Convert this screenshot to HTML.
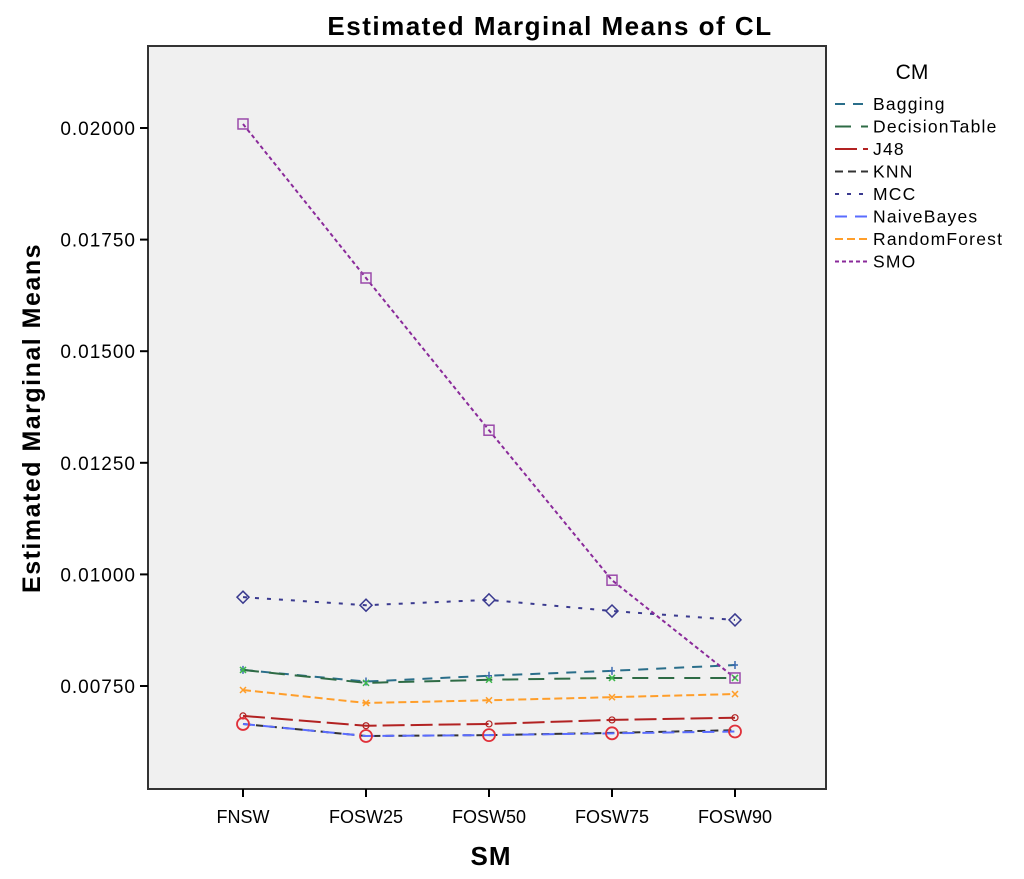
<!DOCTYPE html>
<html><head><meta charset="utf-8"><style>
body{margin:0;background:#fff;}
svg{display:block;font-family:"Liberation Sans",sans-serif;}
</style></head><body>
<svg id="chart" width="1024" height="879" viewBox="0 0 1024 879">
<rect x="0" y="0" width="1024" height="879" fill="#fff"/>
<text x="550" y="35" text-anchor="middle" font-size="26" font-weight="bold" letter-spacing="1.5" fill="#000">Estimated Marginal Means of CL</text>
<rect x="148" y="46" width="678" height="743" fill="#f0f0f0" stroke="#333" stroke-width="2"/>
<text transform="translate(40,418) rotate(-90)" text-anchor="middle" font-size="25" font-weight="bold" letter-spacing="1.5">Estimated Marginal Means</text>
<text x="491" y="865" text-anchor="middle" font-size="26" font-weight="bold" letter-spacing="1">SM</text>
<g id="axes"></g>
<g id="series"></g>
<g id="legend">
<text x="912" y="79" text-anchor="middle" font-size="21">CM</text>
</g>
</svg>
<script>
const categories=["FNSW","FOSW25","FOSW50","FOSW75","FOSW90"];
const yTicks=[0.02,0.0175,0.015,0.0125,0.01,0.0075];
const yTickLabels=["0.02000","0.01750","0.01500","0.01250","0.01000","0.00750"];
const seriesNames=["Bagging","DecisionTable","J48","KNN","MCC","NaiveBayes","RandomForest","SMO"];
const bagging=[0.00786,0.00760,0.00773,0.00784,0.00797];
const decisionTable=[0.00786,0.00757,0.00764,0.00768,0.00768];
const j48=[0.00683,0.00661,0.00665,0.00674,0.00679];
const knn=[0.00665,0.00638,0.00640,0.00645,0.00651];
const mcc=[0.00949,0.00931,0.00943,0.00918,0.00898];
const naiveBayes=[0.00665,0.00638,0.00640,0.00644,0.00648];
const randomForest=[0.00741,0.00712,0.00718,0.00725,0.00732];
const smo=[0.02009,0.01664,0.01323,0.00987,0.00768];

const NS="http://www.w3.org/2000/svg";
const xs=i=>243+i*123;
const ys=v=>128+(0.02-v)*44640;
function mk(tag,attrs,parent){const e=document.createElementNS(NS,tag);for(const k in attrs)e.setAttribute(k,attrs[k]);parent.appendChild(e);return e;}
const axes=document.getElementById('axes');
yTicks.forEach((t,i)=>{
  const l=mk('line',{x1:140,x2:148,y1:ys(t),y2:ys(t),stroke:'#000','stroke-width':2},axes);
  
  
  const tx=mk('text',{x:136,y:ys(t)+7,'text-anchor':'end','font-size':19,'letter-spacing':1},axes);
  tx.textContent=yTickLabels[i];
  
  
});
categories.forEach((c,i)=>{
  const l=mk('line',{x1:xs(i),x2:xs(i),y1:789,y2:797,stroke:'#000','stroke-width':2},axes);
  
  
  const tx=mk('text',{x:xs(i),y:823,'text-anchor':'middle','font-size':18},axes);
  tx.textContent=c;
  
  
});
const data=[bagging,decisionTable,j48,knn,mcc,naiveBayes,randomForest,smo];
const colors=['#2a6e8a','#2e6b45','#b22222','#333333','#3a3a8f','#5a6cff','#ff9e2a','#8a2a9a'];
const dashes=['10,8','16,10','22,6','8,5','4,8','12,8','8,4','4,3'];
const markers=['plus','x','diamond-s','none','diamond','circle','x','square'];
const sg=document.getElementById('series');
data.forEach((d,s)=>{
  const g=mk('g',{},sg);
  
  
  const pts=d.map((v,i)=>xs(i)+','+ys(v)).join(' ');
  const pl=mk('polyline',{points:pts,fill:'none',stroke:colors[s],'stroke-width':2,'stroke-dasharray':dashes[s]},g);
  
  
  d.forEach((v,i)=>{
    const x=xs(i),y=ys(v);let m=null;
    const mt=markers[s];
    if(mt==='square')m=mk('rect',{x:x-5,y:y-5,width:10,height:10,fill:'none',stroke:'#9a4aaa','stroke-width':1.5},g);
    else if(mt==='diamond')m=mk('path',{d:`M${x} ${y-6}L${x+6} ${y}L${x} ${y+6}L${x-6} ${y}Z`,fill:'none',stroke:colors[s],'stroke-width':1.5},g);
    else if(mt==='circle')m=mk('circle',{cx:x,cy:y,r:6,fill:'none',stroke:'#e0303a','stroke-width':1.8},g);
    else if(mt==='diamond-s')m=mk('circle',{cx:x,cy:y,r:3,fill:'none',stroke:colors[s],'stroke-width':1.2},g);
    else if(mt==='x')m=mk('path',{d:`M${x-3} ${y-3}L${x+3} ${y+3}M${x-3} ${y+3}L${x+3} ${y-3}`,stroke:s===1?'#3cb84a':colors[s],'stroke-width':1.5},g);
    else if(mt==='plus')m=mk('path',{d:`M${x-3} ${y}L${x+3} ${y}M${x} ${y-4}L${x} ${y+4}`,stroke:'#3a6ab0','stroke-width':1.5},g);
    if(m){
    }
  });
});
const lg=document.getElementById('legend');
seriesNames.forEach((n,s)=>{
  const y=104+s*22.5;
  const l=mk('line',{x1:835,x2:868,y1:y,y2:y,stroke:colors[s],'stroke-width':2,'stroke-dasharray':dashes[s]},lg);
  
  
  const t=mk('text',{x:873,y:y+6,'font-size':17.5,'letter-spacing':1.2},lg);
  t.textContent=n;
  
  
});
</script>
</body></html>
